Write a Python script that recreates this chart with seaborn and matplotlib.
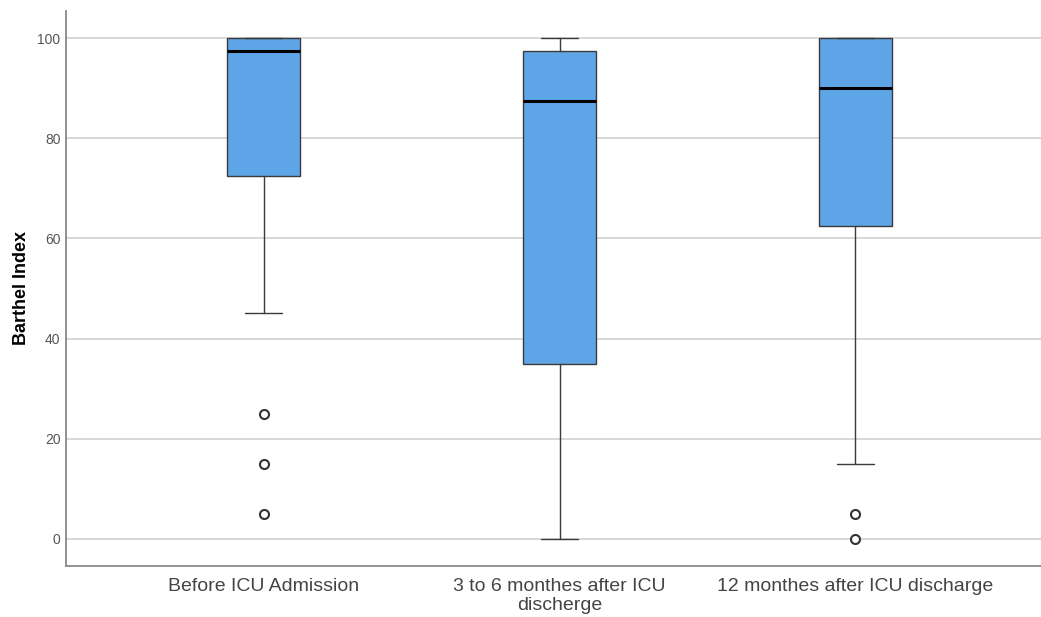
import matplotlib
matplotlib.use("Agg")
import matplotlib.pyplot as plt
import seaborn as sns

# Box statistics (Barthel Index per time point)
groups = ["Before ICU Admission", "3 to 6 monthes after ICU\ndischerge", "12 monthes after ICU discharge"]
whisker_low = [45, 0, 15]
q1 = [72.5, 35, 62.5]
medians = [97.5, 87.5, 90]
q3 = [100, 97.5, 100]
whisker_high = [100, 100, 100]
outliers = [[25, 15, 5], [], [5, 0]]

sns.set_theme(style="white")
plt.rcParams["font.family"] = ["Liberation Sans", "DejaVu Sans"]

stats = [
    {"label": g, "whislo": lo, "q1": a, "med": m, "q3": b, "whishi": hi, "fliers": fl}
    for g, lo, a, m, b, hi, fl in zip(groups, whisker_low, q1, medians, q3, whisker_high, outliers)
]

fig = plt.figure(figsize=(10.41, 6.17), dpi=100)
ax = fig.add_axes([0.0634, 0.083, 0.9366, 0.899])

ax.yaxis.grid(True, color="#d4d4d4", linewidth=1.3)
ax.set_axisbelow(True)

ax.bxp(
    stats,
    positions=[1, 2, 3],
    widths=0.247,
    patch_artist=True,
    showfliers=True,
    boxprops=dict(facecolor="#5ea5e8", edgecolor="#3a3a3a", linewidth=1.0),
    medianprops=dict(color="black", linewidth=2.2),
    whiskerprops=dict(color="#3a3a3a", linewidth=1.0),
    capprops=dict(color="#3a3a3a", linewidth=1.0),
    capwidths=0.125,
    flierprops=dict(marker="o", markersize=6.5, markerfacecolor="white",
                    markeredgecolor="#333333", markeredgewidth=1.5),
)

ax.set_xlim(0.331, 3.628)
ax.set_ylim(-5.4, 105.4)
ax.set_yticks([0, 20, 40, 60, 80, 100])
ax.tick_params(axis="y", length=0, labelsize=10, labelcolor="#555555", pad=4)
ax.tick_params(axis="x", length=0, labelsize=14, labelcolor="#444444", pad=9)
ax.set_ylabel("Barthel Index", fontsize=13, fontweight="bold", color="black", labelpad=5)
ax.set_xlabel("")
for lbl in ax.get_xticklabels():
    lbl.set_linespacing(1.1)

for side in ["top", "right"]:
    ax.spines[side].set_visible(False)
for side in ["left", "bottom"]:
    ax.spines[side].set_color("#888888")
    ax.spines[side].set_linewidth(1.3)

fig.savefig("out.png", dpi=100)
